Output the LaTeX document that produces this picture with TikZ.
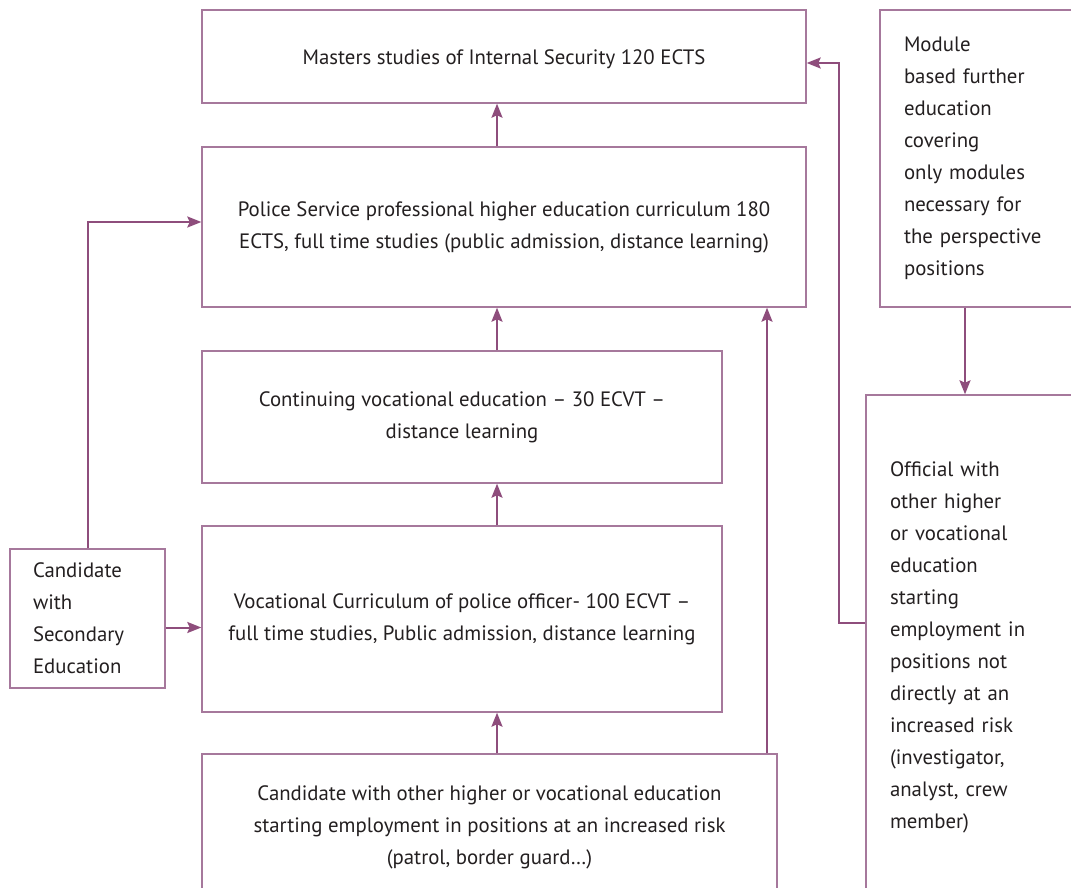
\documentclass[tikz,border=0pt]{standalone}
\usepackage{fontspec}
\setmainfont{PT Sans}
\usepackage{xcolor}
\definecolor{PathLine}{HTML}{8E4D7C}
\definecolor{PathBox}{HTML}{A6789C}
\definecolor{PathText}{HTML}{231F20}
\usepackage{tikz}
\usetikzlibrary{calc, arrows.meta, positioning}

\begin{document}
\begin{tikzpicture}[x=0.5pt, y=-0.5pt,
  every node/.style={font=\fontsize{10.4}{16}\selectfont, text=PathText},
  stagebox/.style={draw=PathBox, line width=0.7pt, align=center, inner sep=0pt},
  sidebox/.style={draw=PathBox, line width=0.7pt, align=left, inner sep=0pt},
  flow/.style={draw=PathLine, line width=1pt, -{Stealth[length=7pt, width=5.5pt, inset=1.2pt]}}]
\useasboundingbox (0,0) rectangle (1071,888);
\clip (0,0) rectangle (1071,888);

% Main track of studies
\node[stagebox, minimum width=302pt, minimum height=46.5pt, text height=10pt] (masters) at (504,56.5)
  {Masters studies of Internal Security 120 ECTS};
\node[stagebox, minimum width=302pt, minimum height=80pt] (police) at (504,227)
  {Police Service professional higher education curriculum 180\\
   ECTS, full time studies (public admission, distance learning)};
\node[stagebox, minimum width=260pt, minimum height=66pt] (contin) at (462,417)
  {Continuing vocational education -- 30 ECVT --\\ distance learning};
\node[stagebox, minimum width=260pt, minimum height=93pt] (vocat) at (462,619)
  {Vocational Curriculum of police officer- 100 ECVT --\\
   full time studies, Public admission, distance learning};
\node[stagebox, minimum width=287.5pt, minimum height=73pt] (riskcand) at (489.5,827)
  {Candidate with other higher or vocational education\\
   starting employment in positions at an increased risk\\
   (patrol, border guard\ldots)};

% Side entries
\node[sidebox, minimum width=77.5pt, minimum height=69.5pt, text width=54.5pt] (seccand) at (87.5,618.5)
  {Candidate\\ with\\ Secondary\\ Education};
\node[sidebox, minimum width=110pt, minimum height=148.5pt, text width=86pt] (module) at (990,158.5)
  {Module\\ based further\\ education\\ covering\\ only modules\\ necessary for\\ the perspective\\ positions};
\node[sidebox, minimum width=120pt, minimum height=252.5pt, text width=96pt] (official) at (986,647.5)
  {Official with\\ other higher\\ or vocational\\ education\\ starting\\ employment in\\ positions not\\ directly at an\\ increased risk\\ (investigator,\\ analyst, crew\\ member)};

% Helper columns for the connectors
\coordinate (spine) at (497,0);
\coordinate (lift) at (767,0);
\coordinate (drop) at (965,0);
\coordinate (turn) at (839,623);

% Connectors
\draw[flow] (police.north -| spine) -- (masters.south -| spine);
\draw[flow] (contin.north -| spine) -- (police.south -| spine);
\draw[flow] (vocat.north -| spine) -- (contin.south -| spine);
\draw[flow] (riskcand.north -| spine) -- (vocat.south -| spine);
\draw[flow] ($(seccand.east)+(0,9)$) -- ($(seccand.east -| vocat.west)+(0,9)$);
\draw[flow] (seccand.north) |- ($(police.west)+(0,-5)$);
\draw[flow] (riskcand.north -| lift) -- (police.south -| lift);
\draw[flow] (module.south -| drop) -- (official.north -| drop);
\draw[flow] (official.west |- turn) -- (turn) |- ($(masters.east)+(0,6.5)$);
\end{tikzpicture}
\end{document}
